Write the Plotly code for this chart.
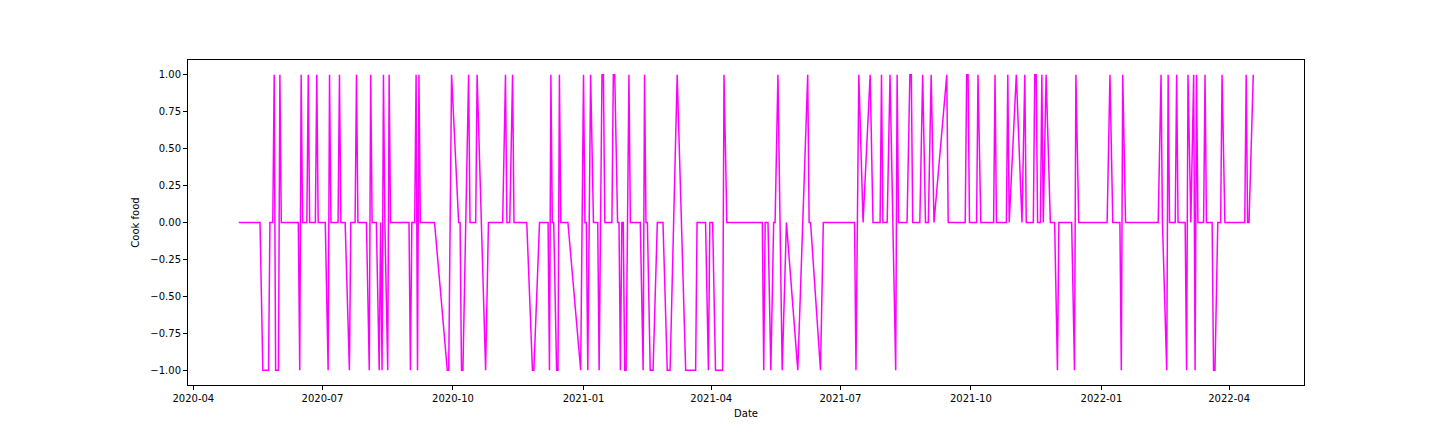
import plotly.graph_objects as go
import pandas as pd

# vertex dates of the "Cook food" series
DATES = [
    "2020-05-03", "2020-05-18", "2020-05-20", "2020-05-24", "2020-05-25", "2020-05-27",
    "2020-05-28", "2020-05-29", "2020-05-31", "2020-06-01", "2020-06-02", "2020-06-14",
    "2020-06-15", "2020-06-16", "2020-06-17", "2020-06-20", "2020-06-21", "2020-06-22",
    "2020-06-26", "2020-06-27", "2020-06-28", "2020-07-03", "2020-07-05", "2020-07-06",
    "2020-07-07", "2020-07-12", "2020-07-13", "2020-07-14", "2020-07-17", "2020-07-20",
    "2020-07-21", "2020-07-24", "2020-07-25", "2020-07-26", "2020-08-01", "2020-08-03",
    "2020-08-04", "2020-08-05", "2020-08-08", "2020-08-10", "2020-08-11", "2020-08-12",
    "2020-08-13", "2020-08-14", "2020-08-16", "2020-08-17", "2020-08-18", "2020-08-31",
    "2020-09-01", "2020-09-02", "2020-09-04", "2020-09-05", "2020-09-06", "2020-09-07",
    "2020-09-08", "2020-09-18", "2020-09-27", "2020-09-28", "2020-09-30", "2020-10-05",
    "2020-10-06", "2020-10-07", "2020-10-08", "2020-10-12", "2020-10-13", "2020-10-17",
    "2020-10-18", "2020-10-24", "2020-10-26", "2020-11-05", "2020-11-07", "2020-11-08",
    "2020-11-10", "2020-11-12", "2020-11-13", "2020-11-22", "2020-11-26", "2020-11-27",
    "2020-12-01", "2020-12-07", "2020-12-08", "2020-12-09", "2020-12-10", "2020-12-11",
    "2020-12-13", "2020-12-14", "2020-12-15", "2020-12-16", "2020-12-21", "2020-12-30",
    "2021-01-01", "2021-01-02", "2021-01-03", "2021-01-04", "2021-01-06", "2021-01-08",
    "2021-01-11", "2021-01-12", "2021-01-14", "2021-01-15", "2021-01-16", "2021-01-21",
    "2021-01-22", "2021-01-23", "2021-01-25", "2021-01-26", "2021-01-27", "2021-01-28",
    "2021-01-29", "2021-01-30", "2021-01-31", "2021-02-02", "2021-02-03", "2021-02-10",
    "2021-02-12", "2021-02-13", "2021-02-14", "2021-02-15", "2021-02-17", "2021-02-19",
    "2021-02-22", "2021-02-26", "2021-03-01", "2021-03-03", "2021-03-08", "2021-03-14",
    "2021-03-21", "2021-03-22", "2021-03-28", "2021-03-30", "2021-03-31", "2021-04-02",
    "2021-04-04", "2021-04-09", "2021-04-10", "2021-04-12", "2021-05-07", "2021-05-08",
    "2021-05-09", "2021-05-11", "2021-05-13", "2021-05-15", "2021-05-16", "2021-05-18",
    "2021-05-21", "2021-05-24", "2021-06-01", "2021-06-08", "2021-06-09", "2021-06-10",
    "2021-06-17", "2021-06-19", "2021-07-11", "2021-07-12", "2021-07-14", "2021-07-17",
    "2021-07-22", "2021-07-24", "2021-07-29", "2021-07-30", "2021-07-31", "2021-08-03",
    "2021-08-05", "2021-08-09", "2021-08-10", "2021-08-11", "2021-08-17", "2021-08-19",
    "2021-08-20", "2021-08-21", "2021-08-26", "2021-08-28", "2021-08-30", "2021-09-01",
    "2021-09-03", "2021-09-05", "2021-09-14", "2021-09-15", "2021-09-27", "2021-09-28",
    "2021-09-29", "2021-09-30", "2021-10-05", "2021-10-06", "2021-10-08", "2021-10-17",
    "2021-10-18", "2021-10-19", "2021-10-26", "2021-10-27", "2021-10-28", "2021-11-02",
    "2021-11-06", "2021-11-08", "2021-11-09", "2021-11-14", "2021-11-15", "2021-11-16",
    "2021-11-17", "2021-11-19", "2021-11-20", "2021-11-21", "2021-11-23", "2021-11-26",
    "2021-11-29", "2021-12-01", "2021-12-02", "2021-12-11", "2021-12-13", "2021-12-14",
    "2021-12-16", "2022-01-05", "2022-01-07", "2022-01-09", "2022-01-14", "2022-01-15",
    "2022-01-16", "2022-01-18", "2022-02-10", "2022-02-12", "2022-02-13", "2022-02-16",
    "2022-02-17", "2022-02-18", "2022-02-22", "2022-02-23", "2022-02-24", "2022-03-01",
    "2022-03-02", "2022-03-03", "2022-03-05", "2022-03-07", "2022-03-08", "2022-03-09",
    "2022-03-10", "2022-03-14", "2022-03-15", "2022-03-16", "2022-03-20", "2022-03-21",
    "2022-03-22", "2022-03-24", "2022-03-26", "2022-03-27", "2022-03-29", "2022-04-12",
    "2022-04-13", "2022-04-14", "2022-04-15", "2022-04-18",
]

COOK_FOOD = [
    0, 0, -1, -1, 0, 0,
    1, -1, -1, 1, 0, 0,
    -1, 1, 0, 0, 1, 0,
    0, 1, 0, 0, -1, 1,
    0, 0, 1, 0, 0, -1,
    0, 0, 1, 0, 0, -1,
    1, 0, 0, -1, 0, -1,
    1, 0, -1, 1, 0, 0,
    -1, 0, 0, 1, -1, 1,
    0, 0, -1, -1, 1, 0,
    0, -1, -1, 1, 0, 0,
    1, -1, 0, 0, 1, 0,
    0, 1, 0, 0, -1, -1,
    0, 0, -1, 1, 0, 0,
    -1, -1, 1, 0, 0, -1,
    1, 0, 0, -1, 1, 0,
    0, -1, 1, 1, 0, 0,
    1, 1, 0, 0, -1, 0,
    0, -1, -1, 1, 0, 0,
    -1, 1, 0, 0, -1, -1,
    0, 0, -1, -1, 1, -1,
    -1, 0, 0, -1, 0, 0,
    -1, -1, 1, 0, 0, -1,
    0, 0, -1, 0, 0, 1,
    -1, 0, -1, 1, 0, 0,
    -1, 0, 0, -1, 1, 0,
    1, 0, 0, 1, 0, 0,
    1, -1, 1, 0, 0, 1,
    1, 0, 0, 1, 0, 0,
    1, 0, 1, 0, 0, 1,
    1, 0, 0, 1, 0, 0,
    1, 0, 0, 1, 0, 1,
    0, 1, 0, 0, 1, 1,
    0, 0, 1, 0, 1, 0,
    0, -1, 0, 0, -1, 1,
    0, 0, 1, 0, 0, -1,
    1, 0, 0, 1, 0, -1,
    1, 0, 0, 1, 0, 0,
    -1, 1, 0, 1, -1, 1,
    0, 0, 1, 0, 0, -1,
    -1, 0, 0, 1, 0, 0,
    1, 0, 0, 1,
]

Y_TICKS = [-1.0, -0.75, -0.5, -0.25, 0.0, 0.25, 0.5, 0.75, 1.0]

dates = pd.to_datetime(DATES)
span = dates.max() - dates.min()
x_range = [dates.min() - span * 0.05, dates.max() + span * 0.05]

fig = go.Figure()
fig.add_trace(go.Scatter(
    x=dates, y=COOK_FOOD,
    mode="lines",
    line=dict(color="#ff00ff", width=1.5),
    showlegend=False,
))

axis_style = dict(
    showline=True, mirror=True, linecolor="black", linewidth=1,
    ticks="outside", ticklen=4, tickcolor="black", tickwidth=1,
    showgrid=False, zeroline=False,
    tickfont=dict(size=10, color="black"),
)

fig.update_layout(
    width=1440, height=432,
    plot_bgcolor="white", paper_bgcolor="white",
    font=dict(family="DejaVu Sans", size=10, color="black"),
    margin=dict(l=180, r=144, t=52, b=55),
    xaxis=dict(
        **axis_style,
        range=x_range,
        tick0="2020-04-01", dtick="M3", tickformat="%Y-%m",
        title=dict(text="Date", font=dict(size=10), standoff=6),
    ),
    yaxis=dict(
        **axis_style,
        range=[-1.1, 1.1],
        tickvals=Y_TICKS, tickformat=".2f",
        title=dict(text="Cook food", font=dict(size=10), standoff=8),
    ),
)

fig.write_html("out.html")
